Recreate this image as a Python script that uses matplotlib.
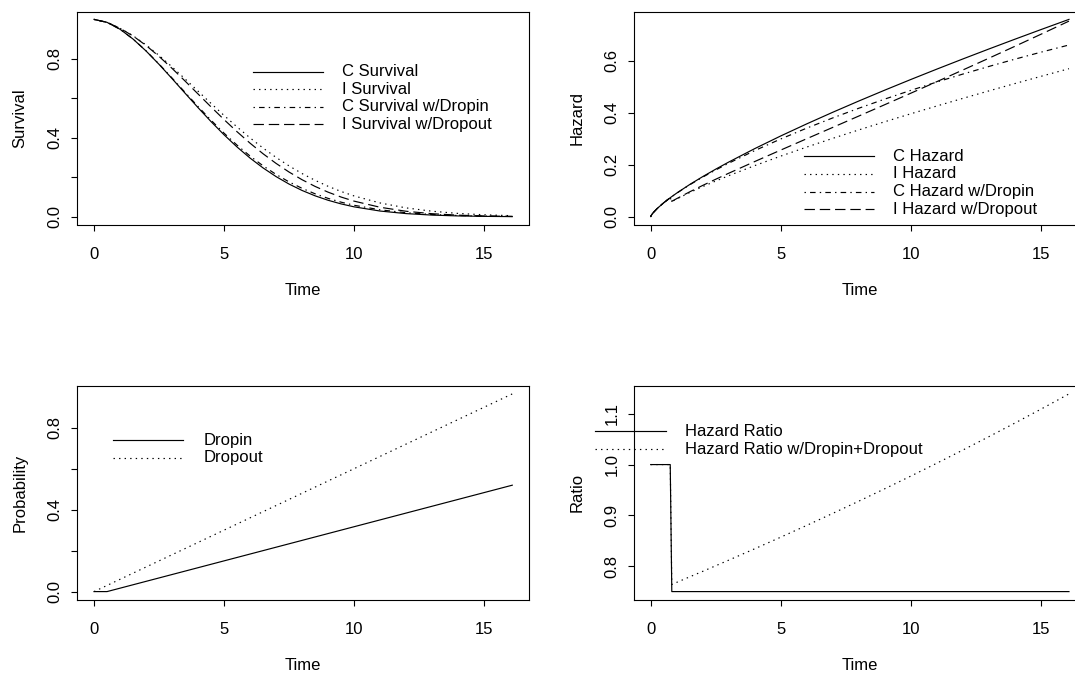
import numpy as np
import matplotlib
matplotlib.use('Agg')
import matplotlib.pyplot as plt

plt.rcParams['font.family'] = ['Liberation Sans', 'DejaVu Sans']
plt.rcParams['font.size'] = 12
plt.rcParams['lines.scale_dashes'] = False

# ---- survival curves
surv_time = [0, 0.5, 1, 1.5, 2, 2.5, 3, 3.5, 4, 4.5, 5, 5.5, 6, 6.5, 7, 7.5,
             8, 8.5, 9, 9.5, 10, 11, 12, 13, 14, 15, 16.08]
surv_c = [1, 0.98502, 0.95, 0.90039, 0.84, 0.77218, 0.7, 0.6261, 0.55285,
          0.4821, 0.41531, 0.35351, 0.29746, 0.24749, 0.20363, 0.16571,
          0.13339, 0.10624, 0.08374, 0.06532, 0.05044, 0.02917, 0.01622,
          0.00868, 0.00447, 0.00222, 0.001]
surv_i = [1, 0.98502, 0.95487, 0.91721, 0.87068, 0.8174, 0.7594, 0.69845,
          0.63621, 0.57412, 0.51336, 0.45493, 0.39969, 0.34819, 0.3008,
          0.25773, 0.21903, 0.18466, 0.15447, 0.12822, 0.10561, 0.07004,
          0.0451, 0.02823, 0.01716, 0.01015, 0.00558]
surv_c_dropin = [1, 0.98502, 0.95006, 0.90075, 0.84095, 0.77401, 0.70295,
                 0.63036, 0.55849, 0.48911, 0.42358, 0.36285, 0.30764,
                 0.25823, 0.21464, 0.1767, 0.14412, 0.11648, 0.09333,
                 0.07413, 0.05839, 0.03535, 0.02074, 0.01182, 0.00654,
                 0.00352, 0.00175]
surv_i_dropout = [1, 0.98502, 0.95461, 0.91604, 0.86797, 0.81254, 0.75183,
                  0.68773, 0.62207, 0.55647, 0.49232, 0.43078, 0.37288,
                  0.31928, 0.27043, 0.22656, 0.18775, 0.15389, 0.12477,
                  0.10006, 0.07936, 0.04828, 0.0281, 0.01564, 0.00831,
                  0.00422, 0.00193]

# ---- hazards (top-right panel)
haz_c_time = [0, 0.02, 0.05, 0.1, 0.25, 0.5, 0.75, 1, 1.5, 2, 2.5, 3, 4, 5,
              6, 7, 8, 9, 10, 11, 12, 13, 14, 15, 16.08]
haz_c = [0, 0.00454, 0.00915, 0.01555, 0.03134, 0.05327, 0.07265, 0.09054,
         0.12348, 0.15389, 0.18254, 0.20987, 0.26156, 0.31026, 0.35671,
         0.40137, 0.44455, 0.48647, 0.52732, 0.56721, 0.60627, 0.64456,
         0.68217, 0.71915, 0.75845]
haz_time = [0, 0.02, 0.05, 0.1, 0.25, 0.5, 0.75, 0.81, 1, 1.5, 2, 2.5, 3, 4,
            5, 6, 7, 8, 9, 10, 11, 12, 13, 14, 15, 16.08]
haz_i = [0, 0.00454, 0.00915, 0.01555, 0.03134, 0.05327, 0.07265, 0.0578,
         0.06791, 0.09261, 0.11542, 0.13691, 0.15741, 0.19617, 0.23269,
         0.26753, 0.30103, 0.33341, 0.36486, 0.39549, 0.42541, 0.4547,
         0.48342, 0.51163, 0.53936, 0.56884]
haz_c_dropin = [0, 0.00454, 0.00915, 0.01555, 0.03134, 0.05327, 0.07265,
                0.07686, 0.09017, 0.12245, 0.15196, 0.1795, 0.2055, 0.25393,
                0.29862, 0.34036, 0.37963, 0.41676, 0.45202, 0.48557,
                0.51758, 0.54817, 0.57742, 0.60543, 0.63226, 0.65998]
haz_i_dropout = [0, 0.00454, 0.00915, 0.01555, 0.03134, 0.05327, 0.07265,
                 0.05873, 0.06927, 0.09539, 0.12003, 0.14375, 0.16685,
                 0.21186, 0.25596, 0.29964, 0.34317, 0.38675, 0.43053,
                 0.47459, 0.51901, 0.56383, 0.60911, 0.65488, 0.70117,
                 0.75178]

# ---- dropin / dropout probabilities (bottom-left)
dropin_time = [0, 0.5, 16.08]
dropin = [0, 0, 0.5193]
dropout_time = [0, 16.08]
dropout = [0, 0.9648]

# ---- hazard ratios (bottom-right)
hr_time = [0, 0.75, 0.81, 16.08]
hr = [1, 1, 0.75, 0.75]
hr_drop_time = [0, 0.75, 0.81, 1, 2, 3, 4, 5, 6, 7, 8, 9, 10, 11, 12, 13,
                14, 15, 16.08]
hr_drop = [1, 1, 0.76412, 0.7682, 0.78987, 0.81191, 0.83433, 0.85714,
           0.88035, 0.90396, 0.928, 0.95247, 0.97738, 1.00274, 1.02857,
           1.05488, 1.08169, 1.109, 1.13909]

LW = 0.85
SOLID = {'linestyle': '-'}
DOTTED = {'dashes': (1.0, 3.0)}
DOTDASH = {'dashes': (1.0, 3.0, 4.0, 3.0)}
LONGDASH = {'dashes': (7.5, 3.5)}

W, H = 1075., 675.


def px_axes(fig, left, right, top, bottom):
    # box given in pixels from the top-left corner of the picture
    return fig.add_axes([left / W, 1 - bottom / H, (right - left) / W, (bottom - top) / H])


def r_lim(values):
    lo, hi = min(values), max(values)
    pad = 0.04 * (hi - lo)
    return lo - pad, hi + pad


def r_style(ax, yticks, ylabels, xlab, ylab):
    for s in ax.spines.values():
        s.set_linewidth(0.8)
    ax.set_xticks([0, 5, 10, 15])
    ax.set_yticks(yticks)
    ax.set_yticklabels(ylabels, rotation=90, va='center')
    ax.tick_params(direction='out', length=4.5, width=0.8)
    ax.tick_params(axis='x', pad=12)
    ax.tick_params(axis='y', pad=6)
    ax.set_xlabel(xlab)
    ax.set_ylabel(ylab)
    ax.xaxis.set_label_coords(0.5, -0.31)
    ax.xaxis.label.set_va('center')
    ax.yaxis.set_label_coords(-0.127, 0.5)
    ax.yaxis.label.set_va('center')


def r_legend(ax, x0, x1, xt, y0, dy, labels, styles):
    for i, (lab, st) in enumerate(zip(labels, styles)):
        y = y0 - i * dy
        ax.plot([x0, x1], [y, y], transform=ax.transAxes, color='black',
                lw=LW, clip_on=False, **st)
        ax.text(xt, y, lab, transform=ax.transAxes, ha='left', va='center')


fig = plt.figure(figsize=(10.75, 6.75), dpi=100)
fig.patch.set_facecolor('white')

xlim = r_lim(surv_time)

# survival
ax = px_axes(fig, 77.3, 529, 11.5, 224.5)
ax.plot(surv_time, surv_c, color='black', lw=LW, **SOLID)
ax.plot(surv_time, surv_i, color='black', lw=LW, **DOTTED)
ax.plot(surv_time, surv_c_dropin, color='black', lw=LW, **DOTDASH)
ax.plot(surv_time, surv_i_dropout, color='black', lw=LW, **LONGDASH)
ax.set_xlim(xlim)
ax.set_ylim(r_lim(surv_c + surv_i + surv_c_dropin + surv_i_dropout))
r_style(ax, [0, 0.2, 0.4, 0.6, 0.8], ['0.0', '', '0.4', '', '0.8'], 'Time', 'Survival')
r_legend(ax, 0.388, 0.545, 0.585, 0.718, 0.0826,
         ['C Survival', 'I Survival', 'C Survival w/Dropin', 'I Survival w/Dropout'],
         [SOLID, DOTTED, DOTDASH, LONGDASH])

# hazard
ax = px_axes(fig, 634, 1085.7, 11.5, 224.5)
ax.plot(haz_c_time, haz_c, color='black', lw=LW, **SOLID)
ax.plot(haz_time, haz_i, color='black', lw=LW, **DOTTED)
ax.plot(haz_time, haz_c_dropin, color='black', lw=LW, **DOTDASH)
ax.plot(haz_time, haz_i_dropout, color='black', lw=LW, **LONGDASH)
ax.set_xlim(xlim)
ax.set_ylim(r_lim(haz_c + haz_i + haz_c_dropin + haz_i_dropout))
r_style(ax, [0, 0.2, 0.4, 0.6], ['0.0', '0.2', '0.4', '0.6'], 'Time', 'Hazard')
r_legend(ax, 0.377, 0.531, 0.574, 0.32, 0.0826,
         ['C Hazard', 'I Hazard', 'C Hazard w/Dropin', 'I Hazard w/Dropout'],
         [SOLID, DOTTED, DOTDASH, LONGDASH])

# dropin / dropout
ax = px_axes(fig, 77.3, 529, 386, 599.5)
ax.plot(dropin_time, dropin, color='black', lw=LW, **SOLID)
ax.plot(dropout_time, dropout, color='black', lw=LW, **DOTTED)
ax.set_xlim(xlim)
ax.set_ylim(r_lim(dropin + dropout))
r_style(ax, [0, 0.2, 0.4, 0.6, 0.8], ['0.0', '', '0.4', '', '0.8'], 'Time', 'Probability')
r_legend(ax, 0.079, 0.234, 0.279, 0.747, 0.0834,
         ['Dropin', 'Dropout'], [SOLID, DOTTED])

# hazard ratio
ax = px_axes(fig, 634, 1085.7, 386, 599.5)
ax.plot(hr_time, hr, color='black', lw=LW, **SOLID)
ax.plot(hr_drop_time, hr_drop, color='black', lw=LW, **DOTTED)
ax.set_xlim(xlim)
ax.set_ylim(r_lim(hr + hr_drop))
r_style(ax, [0.8, 0.9, 1.0, 1.1], ['0.8', '0.9', '1.0', '1.1'], 'Time', 'Ratio')
r_legend(ax, -0.0863, 0.0708, 0.112, 0.787, 0.0824,
         ['Hazard Ratio', 'Hazard Ratio w/Dropin+Dropout'], [SOLID, DOTTED])

fig.savefig('out.png', dpi=100, facecolor='white')
